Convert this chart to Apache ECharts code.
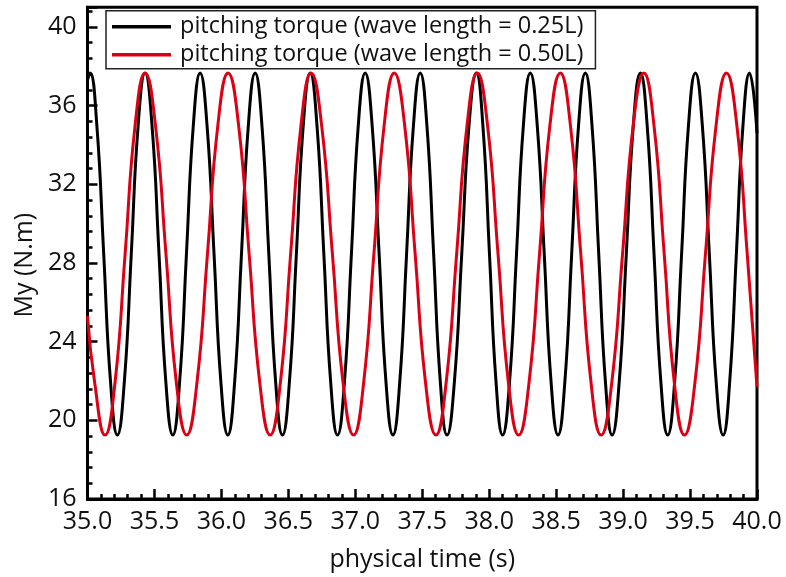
<!DOCTYPE html>
<html>
<head>
<meta charset="utf-8">
<script src="https://cdn.jsdelivr.net/npm/echarts@6/dist/echarts.min.js"></script>
<style>
  html, body { margin: 0; padding: 0; background: #ffffff; }
  #chart { width: 786px; height: 577px; }
</style>
</head>
<body>
<div id="chart"></div>
<script>
// Pitching torque My (N.m) over physical time (s)
var seriesNames = [
  'pitching torque (wave length = 0.25L)',
  'pitching torque (wave length = 0.50L)'
];

// wave length = 0.25L
var shortTime = [
  35.000, 35.019,
  35.070, 35.121, 35.172, 35.223, 35.275, 35.327, 35.378, 35.430,
  35.482, 35.534, 35.585, 35.637, 35.688, 35.739, 35.790, 35.841,
  35.893, 35.945, 35.996, 36.048, 36.099, 36.150, 36.201, 36.252,
  36.303, 36.354, 36.405, 36.456, 36.508, 36.560, 36.611, 36.663,
  36.714, 36.765, 36.816, 36.867, 36.919, 36.971, 37.022, 37.074,
  37.126, 37.178, 37.229, 37.281, 37.332, 37.383, 37.434, 37.485,
  37.535, 37.585, 37.635, 37.685, 37.740, 37.795, 37.849, 37.904,
  37.953, 38.002, 38.051, 38.100, 38.152, 38.204, 38.255, 38.307,
  38.359, 38.411, 38.462, 38.514, 38.565, 38.616, 38.667, 38.718,
  38.768, 38.818, 38.868, 38.918, 38.971, 39.024, 39.076, 39.129,
  39.180, 39.231, 39.282, 39.333, 39.385, 39.437, 39.488, 39.540,
  39.592, 39.644, 39.695, 39.747, 39.796, 39.846, 39.895, 39.944,
  40.000
];
var shortTorque = [
  37.30, 37.66,
  34.97, 28.46, 21.95, 19.25, 21.95, 28.46, 34.97, 37.66,
  34.97, 28.46, 21.95, 19.25, 21.95, 28.46, 34.97, 37.66,
  34.97, 28.46, 21.95, 19.25, 21.95, 28.46, 34.97, 37.66,
  34.97, 28.46, 21.95, 19.25, 21.95, 28.46, 34.97, 37.66,
  34.97, 28.46, 21.95, 19.25, 21.95, 28.46, 34.97, 37.66,
  34.97, 28.46, 21.95, 19.25, 21.95, 28.46, 34.97, 37.66,
  34.97, 28.46, 21.95, 19.25, 21.95, 28.46, 34.97, 37.66,
  34.97, 28.46, 21.95, 19.25, 21.95, 28.46, 34.97, 37.66,
  34.97, 28.46, 21.95, 19.25, 21.95, 28.46, 34.97, 37.66,
  34.97, 28.46, 21.95, 19.25, 21.95, 28.46, 34.97, 37.66,
  34.97, 28.46, 21.95, 19.25, 21.95, 28.46, 34.97, 37.66,
  34.97, 28.46, 21.95, 19.25, 21.95, 28.46, 34.97, 37.66,
  34.60
];

// wave length = 0.50L
var longTime = [
  35.000, 35.053, 35.131,
  35.206, 35.281, 35.355, 35.430, 35.508, 35.586, 35.663, 35.741,
  35.818, 35.896, 35.973, 36.050, 36.129, 36.207, 36.286, 36.364,
  36.441, 36.517, 36.594, 36.670, 36.749, 36.829, 36.908, 36.987,
  37.063, 37.139, 37.215, 37.291, 37.369, 37.447, 37.524, 37.602,
  37.679, 37.757, 37.834, 37.911, 37.988, 38.066, 38.143, 38.220,
  38.298, 38.376, 38.453, 38.531, 38.607, 38.684, 38.760, 38.836,
  38.916, 38.996, 39.075, 39.155, 39.231, 39.307, 39.382, 39.458,
  39.537, 39.615, 39.694, 39.772,
  39.850, 39.927, 40.000
];
var longTorque = [
  25.30, 21.95, 19.25,
  21.95, 28.46, 34.97, 37.66, 34.97, 28.46, 21.95, 19.25,
  21.95, 28.46, 34.97, 37.66, 34.97, 28.46, 21.95, 19.25,
  21.95, 28.46, 34.97, 37.66, 34.97, 28.46, 21.95, 19.25,
  21.95, 28.46, 34.97, 37.66, 34.97, 28.46, 21.95, 19.25,
  21.95, 28.46, 34.97, 37.66, 34.97, 28.46, 21.95, 19.25,
  21.95, 28.46, 34.97, 37.66, 34.97, 28.46, 21.95, 19.25,
  21.95, 28.46, 34.97, 37.66, 34.97, 28.46, 21.95, 19.25,
  21.95, 28.46, 34.97, 37.66,
  34.97, 28.46, 21.70
];

var xTicks = { min: 35, max: 40, step: 0.5 };
var yTicks = { min: 16, max: 41, step: 4 };

function pairs(xs, ys) {
  return xs.map(function (x, i) { return [x, ys[i]]; });
}

var FONT = '"Open Sans", "Noto Sans", sans-serif';
var chart = echarts.init(document.getElementById('chart'), null, { renderer: 'canvas' });

chart.setOption({
  animation: false,
  backgroundColor: '#ffffff',
  grid: {
    left: 87.5, right: 29, top: 7.3, bottom: 73,
    show: true, borderColor: '#000', borderWidth: 3, backgroundColor: 'transparent'
  },
  legend: {
    orient: 'vertical',
    left: 106, top: 10.7,
    padding: [3, 12, 1, 6],
    itemGap: 2,
    itemWidth: 59, itemHeight: 14,
    backgroundColor: '#ffffff',
    borderColor: '#222', borderWidth: 1.5, borderRadius: 0,
    icon: 'path://M0,6 L59,6 L59,9.5 L0,9.5 Z',
    textStyle: { fontFamily: FONT, fontSize: 23.5, color: '#111', lineHeight: 26, padding: [0, 0, 0, 4] },
    data: seriesNames
  },
  xAxis: {
    type: 'value',
    min: xTicks.min, max: xTicks.max, interval: xTicks.step,
    name: 'physical time (s)',
    nameLocation: 'middle', nameGap: 48,
    nameTextStyle: { fontFamily: FONT, fontSize: 25, color: '#111' },
    axisLine: { show: true, lineStyle: { color: '#000', width: 3 } },
    axisTick: { show: true, inside: true, length: 10, lineStyle: { color: '#000', width: 2.5 } },
    minorTick: { show: true, splitNumber: 5, length: 5, lineStyle: { color: '#000', width: 2.5 } },
    splitLine: { show: false },
    axisLabel: {
      fontFamily: FONT, fontSize: 25, color: '#111', margin: 10,
      formatter: function (v) { return v.toFixed(1); }
    }
  },
  yAxis: {
    type: 'value',
    min: yTicks.min, max: yTicks.max, interval: yTicks.step,
    name: 'My (N.m)',
    nameLocation: 'middle', nameGap: 50,
    nameTextStyle: { fontFamily: FONT, fontSize: 25, color: '#111', padding: [0, 24, 0, 0] },
    axisLine: { show: true, lineStyle: { color: '#000', width: 3 } },
    axisTick: { show: true, inside: true, length: 10, lineStyle: { color: '#000', width: 2.5 } },
    minorTick: { show: true, splitNumber: 5, length: 5, lineStyle: { color: '#000', width: 2.5 } },
    splitLine: { show: false },
    axisLabel: {
      fontFamily: FONT, fontSize: 25, color: '#111', margin: 11,
      showMaxLabel: false,
      formatter: function (v) { return String(v); }
    }
  },
  series: [
    {
      name: seriesNames[0],
      type: 'line',
      data: pairs(shortTime, shortTorque),
      smooth: true,
      symbol: 'none',
      lineStyle: { color: '#000000', width: 3 },
      itemStyle: { color: '#000000' },
      z: 2
    },
    {
      name: seriesNames[1],
      type: 'line',
      data: pairs(longTime, longTorque),
      smooth: true,
      symbol: 'none',
      lineStyle: { color: '#dc0015', width: 3 },
      itemStyle: { color: '#dc0015' },
      z: 3
    }
  ]
});
</script>
</body>
</html>
